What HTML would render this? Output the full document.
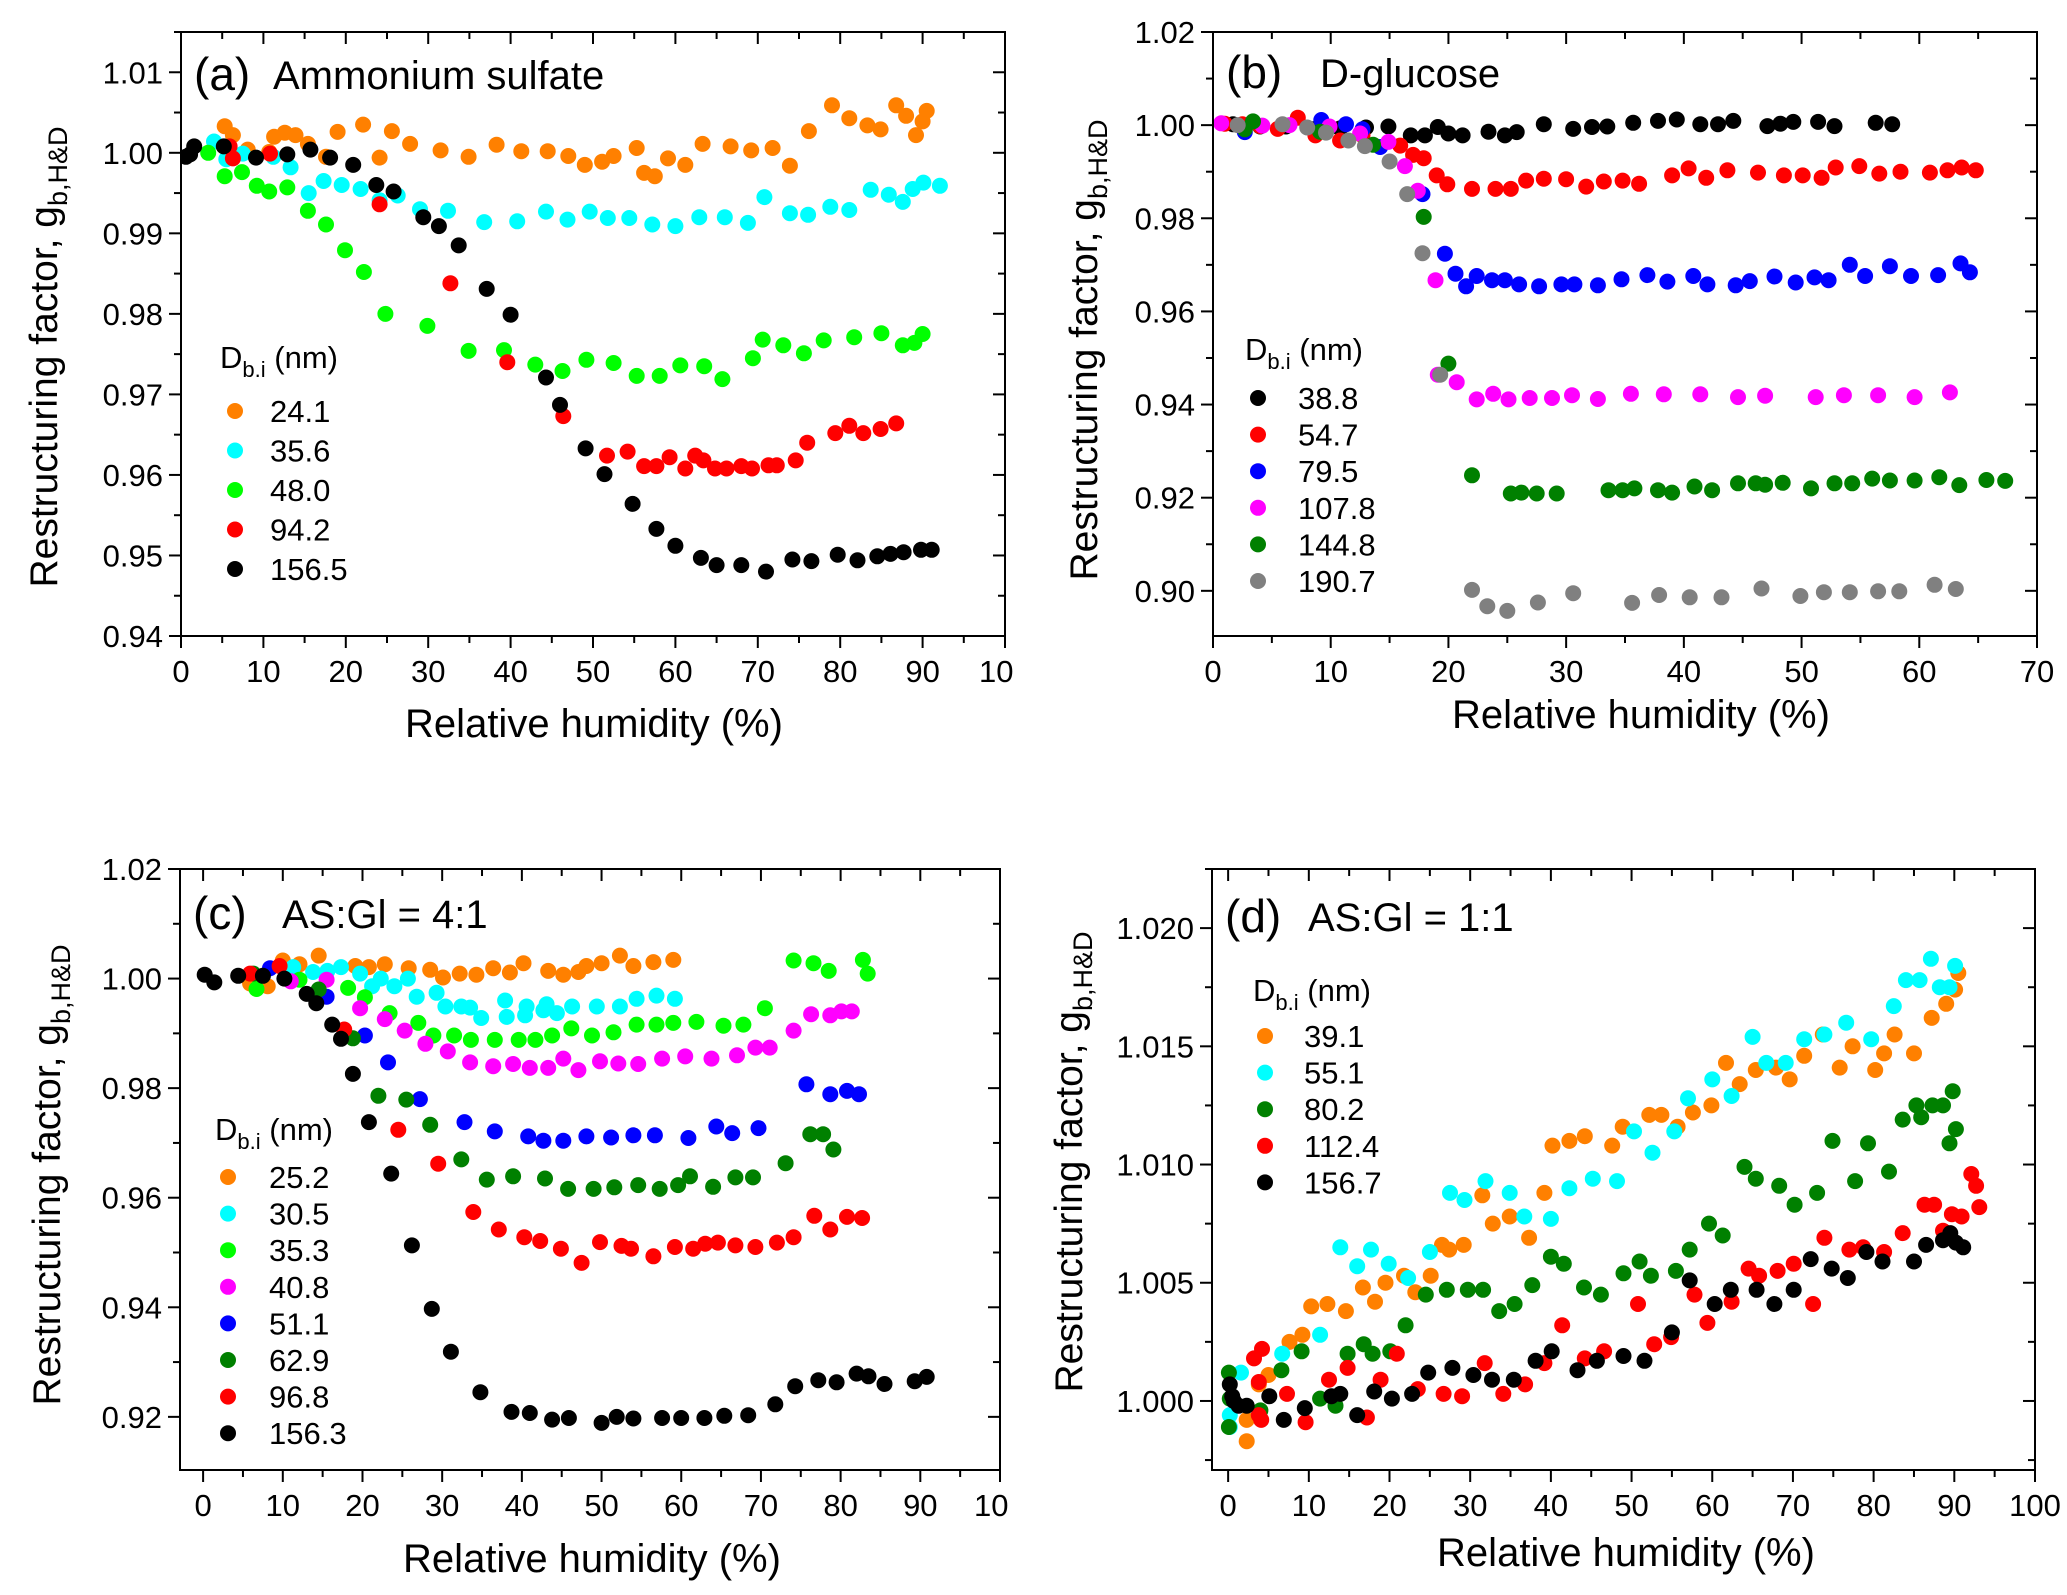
<!DOCTYPE html>
<html><head><meta charset="utf-8"><style>
html,body{margin:0;padding:0;background:#fff;}
svg{display:block;font-family:"Liberation Sans",Arial,sans-serif;}
</style></head><body>
<svg id="fig" width="2067" height="1595" viewBox="0 0 2067 1595" xmlns="http://www.w3.org/2000/svg"></svg>
<script>
// ---------- Panel (a) Ammonium sulfate ----------
const aX_241=[5.3,6.3,8.1,10.7,11.3,12.6,13.9,15.4,17.6,19.0,22.1,24.1,25.6,27.8,31.5,34.9,38.3,41.3,44.5,47.0,49.0,51.1,52.5,55.3,56.2,57.5,59.1,61.2,63.3,66.7,69.2,71.8,73.9,76.2,79.0,81.1,83.3,84.9,86.8,88.0,89.2,90.0,90.5];
const aY_241=[1.0033,1.0022,1.0004,1.0001,1.0020,1.0025,1.0022,1.0011,0.9995,1.0026,1.0035,0.9994,1.0027,1.0011,1.0003,0.9995,1.0010,1.0002,1.0002,0.9996,0.9985,0.9989,0.9996,1.0006,0.9975,0.9971,0.9993,0.9985,1.0011,1.0008,1.0003,1.0006,0.9984,1.0027,1.0059,1.0043,1.0034,1.0029,1.0059,1.0046,1.0022,1.0039,1.0052];
const aX_356=[4.0,5.5,7.5,11.2,13.3,15.5,17.3,19.5,21.8,24.1,26.3,29.0,32.4,36.8,40.8,44.3,46.9,49.6,51.8,54.4,57.2,60.0,62.9,66.0,68.8,70.8,73.9,76.1,78.8,81.1,83.7,85.9,87.6,88.8,90.1,92.1];
const aY_356=[1.0014,0.9992,0.9999,0.9995,0.9982,0.9950,0.9965,0.9960,0.9955,0.9941,0.9947,0.9930,0.9928,0.9914,0.9915,0.9927,0.9917,0.9927,0.9919,0.9919,0.9911,0.9909,0.9920,0.9920,0.9913,0.9945,0.9925,0.9923,0.9933,0.9929,0.9954,0.9948,0.9939,0.9955,0.9963,0.9959];
const aX_480=[3.3,5.3,7.4,9.2,10.7,12.9,15.4,17.6,19.9,22.2,24.8,29.9,34.9,39.2,43.0,46.3,49.2,52.5,55.3,58.1,60.6,63.5,65.7,69.4,70.6,73.1,75.6,78.0,81.7,85.0,87.6,89.0,90.0];
const aY_480=[1.0000,0.9971,0.9976,0.9959,0.9952,0.9957,0.9928,0.9911,0.9879,0.9852,0.9800,0.9785,0.9754,0.9755,0.9737,0.9729,0.9743,0.9739,0.9723,0.9723,0.9736,0.9735,0.9719,0.9745,0.9768,0.9761,0.9751,0.9767,0.9771,0.9776,0.9761,0.9764,0.9775];
const aX_942=[5.9,6.3,10.8,24.1,32.7,39.6,46.4,51.7,54.2,56.2,57.7,59.3,61.2,62.4,63.4,64.8,66.2,68.0,69.3,71.3,72.3,74.6,76.0,79.4,81.1,82.8,84.9,86.8];
const aY_942=[1.0008,0.9993,0.9999,0.9936,0.9838,0.9740,0.9673,0.9624,0.9629,0.9611,0.9611,0.9622,0.9608,0.9624,0.9618,0.9608,0.9608,0.9611,0.9608,0.9612,0.9612,0.9618,0.9640,0.9652,0.9661,0.9652,0.9657,0.9664];
const aX_1565=[0.6,1.1,1.6,5.2,9.1,12.9,15.7,18.1,20.9,23.7,25.8,29.4,31.3,33.7,37.1,40.0,44.3,46.0,49.1,51.4,54.8,57.7,60.0,63.1,65.0,68.0,71.0,74.2,76.5,79.7,82.1,84.5,86.1,87.7,89.8,91.1];
const aY_1565=[0.9995,0.9998,1.0008,1.0008,0.9994,0.9998,1.0004,0.9994,0.9985,0.9960,0.9952,0.9920,0.9909,0.9885,0.9831,0.9799,0.9721,0.9687,0.9633,0.9601,0.9564,0.9533,0.9512,0.9497,0.9488,0.9488,0.9480,0.9495,0.9493,0.9501,0.9494,0.9499,0.9502,0.9504,0.9507,0.9507];
const aLabels=["24.1","35.6","48.0","94.2","156.5"];
const aYTicks=[0.94,0.95,0.96,0.97,0.98,0.99,1.00,1.01];
const aYTickLabels=["0.94","0.95","0.96","0.97","0.98","0.99","1.00","1.01"];

// ---------- Panel (b) D-glucose ----------
const bX_388=[1.7,4.0,6.2,8.5,10.8,13.0,14.9,16.8,18.0,19.1,20.0,21.2,23.4,24.8,25.8,28.1,30.6,32.2,33.5,35.7,37.8,39.4,41.4,42.9,44.2,47.1,48.2,49.3,51.4,52.8,56.3,57.7];
const bY_388=[1.0002,0.9997,0.9997,0.9991,0.9993,0.9995,0.9997,0.9978,0.9978,0.9996,0.9982,0.9978,0.9986,0.9978,0.9985,1.0002,0.9992,0.9996,0.9997,1.0005,1.0009,1.0012,1.0002,1.0002,1.0009,0.9998,1.0003,1.0007,1.0007,0.9998,1.0005,1.0002];
const bX_547=[1.0,2.5,4.0,5.5,7.2,8.7,10.8,12.7,15.9,17.0,17.9,19.0,19.9,22.0,24.0,25.3,26.6,28.1,30.0,31.7,33.2,34.8,36.2,39.0,40.4,41.9,43.7,46.3,48.5,50.1,51.7,52.9,54.9,56.6,58.4,60.9,62.4,63.6,64.8];
const bY_547=[1.0003,1.0002,0.9998,0.9992,1.0016,0.9978,0.9967,0.9978,0.9956,0.9936,0.9929,0.9892,0.9873,0.9863,0.9863,0.9863,0.9881,0.9885,0.9884,0.9868,0.9879,0.9881,0.9874,0.9892,0.9907,0.9887,0.9903,0.9898,0.9892,0.9892,0.9887,0.9909,0.9912,0.9896,0.9900,0.9898,0.9903,0.9909,0.9903];
const bX_795=[2.7,9.2,11.3,12.7,14.2,17.8,19.7,20.6,21.5,22.4,23.7,24.8,26.0,27.7,29.6,30.7,32.7,34.7,36.9,38.6,40.8,42.0,44.4,45.6,47.7,49.5,51.1,52.3,54.1,55.4,57.5,59.3,61.6,63.5,64.3];
const bY_795=[0.9985,1.0011,1.0002,0.9991,0.9953,0.9852,0.9724,0.9681,0.9654,0.9676,0.9667,0.9667,0.9658,0.9654,0.9658,0.9658,0.9656,0.9669,0.9678,0.9664,0.9676,0.9658,0.9656,0.9665,0.9675,0.9662,0.9673,0.9667,0.9700,0.9676,0.9697,0.9676,0.9678,0.9703,0.9684];
const bX_1078=[0.7,4.2,6.5,9.9,12.5,14.9,16.3,17.4,18.9,19.1,20.7,22.4,23.8,25.1,26.9,28.8,30.5,32.7,35.5,38.3,41.4,44.6,46.9,51.2,53.6,56.5,59.6,62.6];
const bY_1078=[1.0004,0.9999,1.0000,0.9997,0.9982,0.9964,0.9912,0.9859,0.9667,0.9464,0.9448,0.9411,0.9423,0.9411,0.9414,0.9414,0.9420,0.9412,0.9423,0.9422,0.9422,0.9416,0.9419,0.9416,0.9420,0.9420,0.9416,0.9426];
const bX_1448=[2.7,3.4,9.1,13.6,17.9,20.0,22.0,25.3,26.2,27.5,29.2,33.6,34.8,35.8,37.8,39.0,40.9,42.4,44.6,46.1,46.9,48.4,50.8,52.8,54.3,56.0,57.5,59.6,61.7,63.4,65.7,67.3];
const bY_1448=[0.9991,1.0008,0.9986,0.9958,0.9803,0.9488,0.9248,0.9209,0.9211,0.9209,0.9209,0.9216,0.9216,0.9220,0.9216,0.9211,0.9224,0.9216,0.9231,0.9231,0.9228,0.9232,0.9220,0.9231,0.9231,0.9241,0.9237,0.9237,0.9244,0.9227,0.9238,0.9236];
const bX_1907=[2.1,5.9,8.0,9.6,11.5,12.9,15.0,16.5,17.8,19.3,22.0,23.3,25.0,27.6,30.6,35.6,37.9,40.5,43.2,46.6,49.9,51.9,54.1,56.5,58.3,61.3,63.1];
const bY_1907=[1.0000,1.0002,0.9995,0.9984,0.9967,0.9955,0.9922,0.9852,0.9725,0.9464,0.9002,0.8967,0.8957,0.8975,0.8995,0.8974,0.8991,0.8986,0.8986,0.9005,0.8989,0.8997,0.8997,0.8999,0.8999,0.9013,0.9004];
const bLabels=["38.8","54.7","79.5","107.8","144.8","190.7"];
const bYTicks=[0.90,0.92,0.94,0.96,0.98,1.00,1.02];
const bYTickLabels=["0.90","0.92","0.94","0.96","0.98","1.00","1.02"];

// ---------- Panel (c) AS:Gl = 4:1 ----------
const cX_252=[5.9,8.1,10.0,12.1,14.5,19.1,20.8,22.8,25.8,28.5,30.1,32.2,34.3,36.4,38.5,40.2,43.3,45.2,47.1,48.1,50.0,52.3,54.0,56.5,59.0];
const cY_252=[0.9991,0.9986,1.0033,1.0026,1.0042,1.0023,1.0021,1.0026,1.0019,1.0016,1.0002,1.0009,1.0007,1.0019,1.0011,1.0028,1.0014,1.0007,1.0012,1.0023,1.0028,1.0042,1.0023,1.0030,1.0034];
const cX_305=[11.3,13.8,15.6,17.3,19.7,21.2,22.3,24.0,25.7,26.8,29.3,30.4,32.4,33.5,34.9,37.9,38.1,40.6,40.4,42.7,43.1,44.4,46.3,49.4,52.3,54.4,56.9,59.2];
const cY_305=[1.0021,1.0012,1.0014,1.0021,1.0009,0.9986,1.0000,0.9986,1.0000,0.9967,0.9974,0.9949,0.9949,0.9947,0.9928,0.9960,0.9930,0.9949,0.9933,0.9942,0.9953,0.9937,0.9949,0.9949,0.9949,0.9963,0.9969,0.9963];
const cX_353=[6.7,12.1,18.2,20.3,23.4,27.0,28.9,31.5,33.6,36.6,39.6,41.7,43.8,46.2,48.8,51.5,54.4,56.9,59.0,61.9,65.3,67.8,70.5,74.1,76.6,78.5,82.8,83.4];
const cY_353=[0.9981,0.9998,0.9983,0.9966,0.9937,0.9919,0.9896,0.9896,0.9888,0.9888,0.9888,0.9888,0.9896,0.9909,0.9896,0.9902,0.9916,0.9916,0.9919,0.9921,0.9914,0.9916,0.9946,1.0033,1.0028,1.0014,1.0034,1.0009];
const cX_408=[11.0,15.5,19.7,22.8,25.3,27.9,30.7,33.5,36.4,38.9,41.0,43.3,45.2,47.1,49.8,52.1,54.6,57.6,60.5,63.8,67.0,69.3,71.1,74.1,76.3,78.7,80.1,81.4];
const cY_408=[0.9995,0.9998,0.9946,0.9926,0.9905,0.9881,0.9867,0.9847,0.9840,0.9844,0.9837,0.9837,0.9854,0.9833,0.9849,0.9845,0.9844,0.9854,0.9858,0.9854,0.9860,0.9874,0.9874,0.9905,0.9935,0.9933,0.9940,0.9940];
const cX_511=[8.4,15.5,20.3,23.2,27.2,32.8,36.6,40.8,42.7,45.2,48.1,51.2,54.0,56.7,60.9,64.4,66.4,69.7,75.7,78.7,80.8,82.3];
const cY_511=[1.0019,0.9967,0.9896,0.9847,0.9780,0.9738,0.9721,0.9712,0.9704,0.9704,0.9712,0.9710,0.9714,0.9714,0.9709,0.9730,0.9718,0.9727,0.9807,0.9789,0.9795,0.9789];
const cX_629=[6.3,14.5,18.8,22.0,25.5,28.5,32.4,35.6,38.9,42.9,45.8,49.0,51.6,54.6,57.3,59.6,61.1,64.0,66.8,69.0,73.1,76.2,77.8,79.1];
const cY_629=[1.0009,0.9980,0.9891,0.9786,0.9779,0.9733,0.9670,0.9633,0.9639,0.9635,0.9616,0.9616,0.9619,0.9623,0.9616,0.9623,0.9639,0.9620,0.9637,0.9637,0.9663,0.9716,0.9716,0.9688];
const cX_968=[5.9,9.6,17.7,24.5,29.5,33.9,37.1,40.3,42.3,44.9,47.5,49.8,52.5,53.7,56.5,59.2,61.5,63.0,64.6,66.8,69.3,72.0,74.1,76.7,78.7,80.8,82.7];
const cY_968=[1.0009,1.0023,0.9907,0.9724,0.9662,0.9574,0.9542,0.9528,0.9521,0.9507,0.9481,0.9519,0.9512,0.9507,0.9493,0.9510,0.9507,0.9516,0.9518,0.9513,0.9510,0.9518,0.9528,0.9567,0.9542,0.9565,0.9563];
const cX_1563=[0.2,1.4,4.4,7.5,10.2,13.0,14.2,16.2,17.3,18.8,20.8,23.6,26.2,28.7,31.1,34.8,38.7,41.0,43.8,45.9,50.0,51.9,54.0,57.6,60.0,62.9,65.4,68.4,71.8,74.3,77.2,79.5,82.0,83.5,85.5,89.3,90.8];
const cY_1563=[1.0007,0.9993,1.0005,1.0005,1.0000,0.9972,0.9955,0.9916,0.9890,0.9826,0.9738,0.9644,0.9513,0.9397,0.9319,0.9245,0.9209,0.9207,0.9195,0.9198,0.9189,0.9200,0.9197,0.9198,0.9198,0.9198,0.9202,0.9203,0.9223,0.9256,0.9267,0.9263,0.9279,0.9274,0.9260,0.9265,0.9273];
const cLabels=["25.2","30.5","35.3","40.8","51.1","62.9","96.8","156.3"];
const cYTicks=[0.92,0.94,0.96,0.98,1.00,1.02];
const cYTickLabels=["0.92","0.94","0.96","0.98","1.00","1.02"];

// ---------- Panel (d) AS:Gl = 1:1 ----------
const dX_391=[2.3,2.3,3.8,5.0,7.6,9.2,10.3,12.3,14.6,16.7,18.2,19.5,21.8,23.2,25.1,26.5,27.4,29.2,31.5,32.8,34.9,37.3,39.2,40.2,42.3,44.2,47.6,48.9,52.2,53.7,55.7,57.6,59.9,61.7,63.4,65.4,67.9,69.6,71.4,73.7,75.8,77.4,80.2,81.3,82.6,85.0,87.2,89.0,90.1,90.5];
const dY_391=[0.9983,0.9992,1.0007,1.0011,1.0025,1.0028,1.0040,1.0041,1.0038,1.0048,1.0042,1.0050,1.0053,1.0046,1.0053,1.0066,1.0064,1.0066,1.0087,1.0075,1.0078,1.0069,1.0088,1.0108,1.0110,1.0112,1.0108,1.0116,1.0121,1.0121,1.0116,1.0122,1.0125,1.0143,1.0134,1.0140,1.0141,1.0136,1.0146,1.0155,1.0141,1.0150,1.0140,1.0147,1.0155,1.0147,1.0162,1.0168,1.0174,1.0181];
const dX_551=[0.2,0.2,1.6,6.7,11.4,13.9,16.0,17.7,19.9,22.3,25.0,27.5,29.3,31.9,34.9,36.7,40.0,42.3,45.2,48.2,50.3,52.6,55.3,57.0,60.0,62.4,65.0,66.7,69.1,71.4,73.9,76.6,79.7,82.5,84.0,85.7,87.1,88.2,89.4,90.1];
const dY_551=[0.9989,0.9994,1.0012,1.0020,1.0028,1.0065,1.0057,1.0064,1.0058,1.0052,1.0063,1.0088,1.0085,1.0093,1.0088,1.0078,1.0077,1.0090,1.0094,1.0093,1.0114,1.0105,1.0114,1.0128,1.0136,1.0129,1.0154,1.0143,1.0143,1.0153,1.0155,1.0160,1.0153,1.0167,1.0178,1.0178,1.0187,1.0175,1.0175,1.0184];
const dX_802=[0.1,0.1,0.2,4.0,6.6,9.1,11.4,13.3,14.8,16.8,17.9,20.1,22.0,24.5,27.1,29.7,31.6,33.6,35.5,37.7,40.0,41.6,44.1,46.2,49.0,51.0,52.4,55.5,57.2,59.6,61.3,64.0,65.4,68.3,70.2,73.0,74.9,77.7,79.3,81.9,83.6,85.3,85.9,87.3,88.6,89.4,89.8,90.2];
const dY_802=[0.9989,1.0012,1.0001,0.9996,1.0013,1.0021,1.0001,0.9998,1.0020,1.0024,1.0020,1.0021,1.0032,1.0045,1.0047,1.0047,1.0047,1.0038,1.0041,1.0049,1.0061,1.0058,1.0048,1.0045,1.0054,1.0059,1.0053,1.0055,1.0064,1.0075,1.0070,1.0099,1.0094,1.0091,1.0083,1.0088,1.0110,1.0093,1.0109,1.0097,1.0119,1.0125,1.0120,1.0125,1.0125,1.0109,1.0131,1.0115];
const dX_1124=[3.2,4.2,3.8,3.8,4.1,7.3,9.6,12.5,14.8,17.2,18.9,20.9,23.5,26.7,29.0,31.8,34.1,36.8,39.2,41.4,44.2,46.6,50.8,52.8,54.9,57.8,59.4,62.4,64.5,65.8,68.1,70.1,72.5,73.9,77.0,78.7,81.3,83.6,86.3,87.5,88.6,89.7,90.9,92.1,92.7,93.1];
const dY_1124=[1.0018,1.0022,1.0008,0.9994,0.9992,1.0003,0.9991,1.0009,1.0014,0.9993,1.0009,1.0020,1.0005,1.0003,1.0002,1.0016,1.0003,1.0007,1.0016,1.0032,1.0018,1.0021,1.0041,1.0024,1.0027,1.0045,1.0033,1.0042,1.0056,1.0053,1.0055,1.0058,1.0041,1.0069,1.0064,1.0065,1.0063,1.0071,1.0083,1.0083,1.0072,1.0079,1.0078,1.0096,1.0091,1.0082];
const dX_1567=[0.2,0.5,0.7,1.3,2.3,5.1,6.9,9.5,12.8,13.9,16.0,18.1,20.3,22.8,24.8,27.8,30.4,32.7,35.4,38.1,40.1,43.3,45.7,49.0,51.6,55.0,57.2,60.3,62.3,65.5,67.7,70.1,72.2,74.8,76.8,79.1,81.1,85.0,86.5,88.6,89.5,90.2,91.1];
const dY_1567=[1.0007,1.0002,1.0000,0.9998,0.9998,1.0002,0.9992,0.9997,1.0002,1.0003,0.9994,1.0004,1.0001,1.0003,1.0012,1.0014,1.0011,1.0009,1.0009,1.0017,1.0021,1.0013,1.0017,1.0019,1.0017,1.0029,1.0051,1.0041,1.0047,1.0047,1.0041,1.0047,1.0060,1.0056,1.0052,1.0063,1.0059,1.0059,1.0066,1.0068,1.0071,1.0067,1.0065];
const dLabels=["39.1","55.1","80.2","112.4","156.7"];
const dYTicks=[1.000,1.005,1.010,1.015,1.020];
const dYTickLabels=["1.000","1.005","1.010","1.015","1.020"];

const xTicks100=[0,10,20,30,40,50,60,70,80,90];
const xTickLabels100=["0","10","20","30","40","50","60","70","80","90"];
const xTicks70=[0,10,20,30,40,50,60,70];
const xTickLabels70=["0","10","20","30","40","50","60","70"];

const NS="http://www.w3.org/2000/svg";
const fig=document.getElementById('fig');
function mk(tag,attrs,parent){const e=document.createElementNS(NS,tag);for(const k in attrs)e.setAttribute(k,attrs[k]);(parent||fig).appendChild(e);return e;}

const ORANGE="#ff8000",CYAN="#00ffff",LIME="#00ff00",RED="#ff0000",BLACK="#000000",BLUE="#0000ff",MAG="#ff00ff",DGREEN="#008000",GRAY="#808080";

function panel(p){
  const g=mk('g',{});
  
  
  const sx=v=>p.L+(v-p.x0)/(p.x1-p.x0)*(p.R-p.L);
  const sy=v=>p.B-(v-p.y0)/(p.y1-p.y0)*(p.B-p.T);
  const clipId='clip'+p.key;
  const cp=mk('clipPath',{id:clipId},g);mk('rect',{x:p.L,y:p.T,width:p.R-p.L,height:p.B-p.T},cp);
  const sg=mk('g',{'clip-path':'url(#'+clipId+')'},g);
  p.series.forEach((s,i)=>{
    const gg=mk('g',{fill:s.c},sg);
    
    
    s.x.forEach((xv,j)=>{
      const c=mk('circle',{cx:sx(xv).toFixed(1),cy:sy(s.y[j]).toFixed(1),r:8},gg);
      
      
    });
  });
  const fr=mk('rect',{x:p.L,y:p.T,width:p.R-p.L,height:p.B-p.T,fill:'none',stroke:'#000','stroke-width':2},g);
  
  
  for(let v=p.x0c;v<=p.x1+0.001;v+=p.xMinor){
    const major=Math.abs(v/p.xMajor-Math.round(v/p.xMajor))<1e-6;
    const len=major?12:7;const X=sx(v);
    mk('line',{x1:X,y1:p.B,x2:X,y2:p.B+len,stroke:'#000','stroke-width':2},g);
    mk('line',{x1:X,y1:p.T,x2:X,y2:p.T+len,stroke:'#000','stroke-width':2},g);
  }
  p.xTicks.forEach((v,i)=>{
    const t=mk('text',{x:sx(v),y:p.B+46,'font-size':31,'text-anchor':'middle'},g);t.textContent=p.xTickLabels[i];
    
    
  });
  if(p.extraX){const t=mk('text',{x:p.extraX,y:p.B+46,'font-size':31},g);t.textContent='10';
    
    }
  const yStart=Math.ceil((p.y0-1e-9)/p.yMinor)*p.yMinor;
  for(let k=0;;k++){const v=yStart+k*p.yMinor;if(v>p.y1+1e-9)break;
    const major=Math.abs(v/p.yMajor-Math.round(v/p.yMajor))<1e-6;
    const len=major?12:7;const Y=sy(v);
    mk('line',{x1:p.L-len,y1:Y,x2:p.L,y2:Y,stroke:'#000','stroke-width':2},g);
    mk('line',{x1:p.R-len,y1:Y,x2:p.R,y2:Y,stroke:'#000','stroke-width':2},g);
  }
  p.yTicks.forEach((v,i)=>{
    const t=mk('text',{x:p.L-18,y:sy(v)+11,'font-size':31,'text-anchor':'end'},g);t.textContent=p.yTickLabels[i];
    
    
  });
  const xt=mk('text',{x:p.xtX,y:p.xtY,'font-size':40,'text-anchor':'middle'},g);xt.textContent='Relative humidity (%)';
  
  
  const yt=mk('text',{transform:`translate(${p.ytX},${p.ytY}) rotate(-90)`,'font-size':39,'text-anchor':'middle'},g);
  yt.innerHTML='Restructuring factor, g<tspan font-size="27" dy="10">b,H&amp;D</tspan>';
  
  
  const pt=mk('text',{x:p.L+13,y:p.titleY,'font-size':46},g);pt.textContent=p.tag;
  
  
  const pt2=mk('text',{x:p.titleX2,y:p.titleY-1,'font-size':40},g);pt2.textContent=p.title;
  
  
  const lg=mk('g',{},g);
  
  
  const lt=mk('text',{x:p.legX,y:p.legY,'font-size':31},lg);
  lt.innerHTML='D<tspan font-size="22" dy="9">b.i</tspan><tspan dy="-9"> (nm)</tspan>';
  
  
  p.series.forEach((s,i)=>{
    const Y=p.legRow0+i*p.legStep;
    const c=mk('circle',{cx:p.legMX,cy:Y,r:8,fill:s.c},lg);
    
    
    const t=mk('text',{x:p.legTX,y:Y+11,'font-size':31},lg);t.textContent=s.label;
    
    
  });
}

panel({key:'a',name:'panel-a-ammonium-sulfate',L:181,R:1005,T:32,B:636,x0:0,x1:100,x0c:0,y0:0.94,y1:1.015,xMajor:10,xMinor:5,yMajor:0.01,yMinor:0.005,
  xTicks:xTicks100,xTickLabels:xTickLabels100,extraX:979,yTicks:aYTicks,yTickLabels:aYTickLabels,
  xtX:594,xtY:737,ytX:57,ytY:357,tag:'(a)',title:'Ammonium sulfate',titleX2:273,titleY:90,
  legX:220,legY:368,legMX:235,legTX:270,legRow0:411,legStep:39.5,
  series:[{x:aX_241,y:aY_241,c:ORANGE,label:aLabels[0]},{x:aX_356,y:aY_356,c:CYAN,label:aLabels[1]},{x:aX_480,y:aY_480,c:LIME,label:aLabels[2]},{x:aX_942,y:aY_942,c:RED,label:aLabels[3]},{x:aX_1565,y:aY_1565,c:BLACK,label:aLabels[4]}]});

panel({key:'b',name:'panel-b-d-glucose',L:1213,R:2037,T:32,B:636,x0:0,x1:70,x0c:0,y0:0.8903,y1:1.02,xMajor:10,xMinor:5,yMajor:0.02,yMinor:0.01,
  xTicks:xTicks70,xTickLabels:xTickLabels70,yTicks:bYTicks,yTickLabels:bYTickLabels,
  xtX:1641,xtY:728,ytX:1097,ytY:350,tag:'(b)',title:'D-glucose',titleX2:1320,titleY:88,
  legX:1245,legY:360,legMX:1258,legTX:1298,legRow0:398,legStep:36.6,
  series:[{x:bX_388,y:bY_388,c:BLACK,label:bLabels[0]},{x:bX_547,y:bY_547,c:RED,label:bLabels[1]},{x:bX_795,y:bY_795,c:BLUE,label:bLabels[2]},{x:bX_1078,y:bY_1078,c:MAG,label:bLabels[3]},{x:bX_1448,y:bY_1448,c:DGREEN,label:bLabels[4]},{x:bX_1907,y:bY_1907,c:GRAY,label:bLabels[5]}]});

panel({key:'c',name:'panel-c-as-gl-4-1',L:180,R:1000,T:869,B:1470,x0:-2.9,x1:100,x0c:0,y0:0.9103,y1:1.02,xMajor:10,xMinor:5,yMajor:0.02,yMinor:0.01,
  xTicks:xTicks100,xTickLabels:xTickLabels100,extraX:974,yTicks:cYTicks,yTickLabels:cYTickLabels,
  xtX:592,xtY:1572,ytX:60,ytY:1175,tag:'(c)',title:'AS:Gl = 4:1',titleX2:282,titleY:929,
  legX:215,legY:1140,legMX:228,legTX:269,legRow0:1177,legStep:36.6,
  series:[{x:cX_252,y:cY_252,c:ORANGE,label:cLabels[0]},{x:cX_305,y:cY_305,c:CYAN,label:cLabels[1]},{x:cX_353,y:cY_353,c:LIME,label:cLabels[2]},{x:cX_408,y:cY_408,c:MAG,label:cLabels[3]},{x:cX_511,y:cY_511,c:BLUE,label:cLabels[4]},{x:cX_629,y:cY_629,c:DGREEN,label:cLabels[5]},{x:cX_968,y:cY_968,c:RED,label:cLabels[6]},{x:cX_1563,y:cY_1563,c:BLACK,label:cLabels[7]}]});

panel({key:'d',name:'panel-d-as-gl-1-1',L:1212,R:2035,T:869,B:1470,x0:-2,x1:100,x0c:0,y0:0.99708,y1:1.0225,xMajor:10,xMinor:5,yMajor:0.005,yMinor:0.0025,
  xTicks:xTicks100.concat([100]),xTickLabels:xTickLabels100.concat(["100"]),yTicks:dYTicks,yTickLabels:dYTickLabels,
  xtX:1626,xtY:1566,ytX:1082,ytY:1162,tag:'(d)',title:'AS:Gl = 1:1',titleX2:1308,titleY:932,
  legX:1253,legY:1001,legMX:1265,legTX:1304,legRow0:1036,legStep:36.6,
  series:[{x:dX_391,y:dY_391,c:ORANGE,label:dLabels[0]},{x:dX_551,y:dY_551,c:CYAN,label:dLabels[1]},{x:dX_802,y:dY_802,c:DGREEN,label:dLabels[2]},{x:dX_1124,y:dY_1124,c:RED,label:dLabels[3]},{x:dX_1567,y:dY_1567,c:BLACK,label:dLabels[4]}]});
</script>
</body></html>
